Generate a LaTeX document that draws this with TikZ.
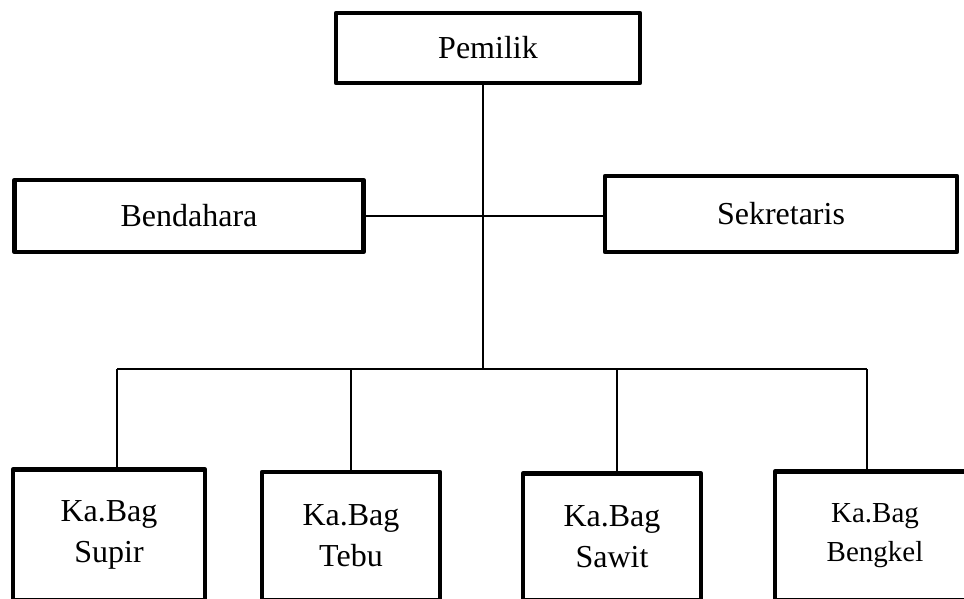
\documentclass[tikz,border=0pt]{standalone}
\usepackage{fontspec}
\setmainfont{Liberation Serif}
\usetikzlibrary{positioning}

\begin{document}
\begin{tikzpicture}[x=1pt,y=-1pt]
      \tikzstyle{every node}=[font=\fontsize{32}{41}\selectfont]
      \tikzstyle{jabatan}=[draw,line width=4.5pt,line join=round,align=center,inner sep=0pt]
      \tikzstyle{garis}=[line width=1.6pt]
      \useasboundingbox (0,0) rectangle (964,598);
      % pimpinan
      \node[jabatan,minimum width=304pt,minimum height=70pt] (pemilik) at (488,48) {Pemilik};
      \node[jabatan,minimum width=349pt,minimum height=72pt] (bendahara) at (189,216) {Bendahara};
      \node[jabatan,minimum width=352pt,minimum height=76pt] (sekretaris) at (781,214) {Sekretaris};
      % kepala bagian
      \node[jabatan,minimum width=192pt,minimum height=131pt] (supir) at (109,535) {Ka.Bag\\Supir};
      \node[jabatan,minimum width=178pt,minimum height=128pt] (tebu) at (351,536) {Ka.Bag\\Tebu};
      \node[jabatan,minimum width=178pt,minimum height=127pt] (sawit) at (612,537) {Ka.Bag\\Sawit};
      \node[jabatan,minimum width=200pt,minimum height=129pt,
            font=\fontsize{29}{39}\selectfont] (bengkel) at (875,536) {Ka.Bag\\Bengkel};
      % garis
      \coordinate (bus) at (483,369);
      \coordinate (d1) at (117,369);
      \coordinate (d2) at (351,369);
      \coordinate (d3) at (617,369);
      \coordinate (d4) at (867,369);
      \draw[garis] (pemilik.south -| bus) -- (bus);
      \draw[garis] (bendahara.east) -- (sekretaris.west |- bendahara.east);
      \draw[garis] (d1) -- (d4);
      \draw[garis] (d1) -- (d1 |- supir.north);
      \draw[garis] (d2) -- (d2 |- tebu.north);
      \draw[garis] (d3) -- (d3 |- sawit.north);
      \draw[garis] (d4) -- (d4 |- bengkel.north);
    \end{tikzpicture}
\end{document}
